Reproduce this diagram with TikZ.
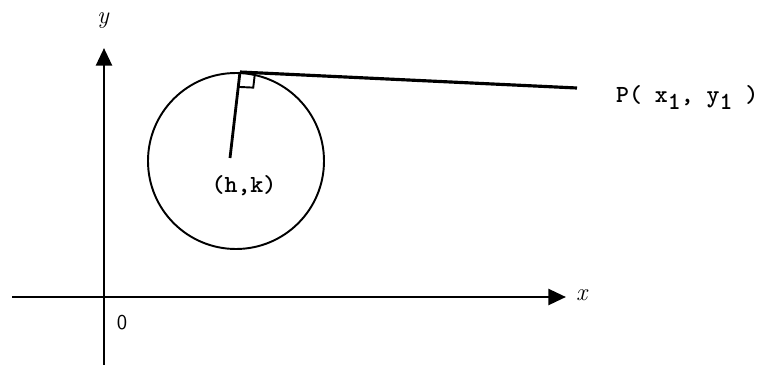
\documentclass[tikz,border=0pt]{standalone}
\usepackage{fontspec}
\usetikzlibrary{arrows.meta,calc}
\begin{document}
\begin{tikzpicture}
\useasboundingbox (0,0) rectangle (15.26,-7.3);
\tikzset{axis/.style={line width=1.6pt, -{Triangle[length=10pt,width=9pt]}},
  pt/.style={font=\ttfamily\bfseries\fontsize{14}{16}\selectfont},
  lab/.style={font=\itshape\fontsize{14}{16}\selectfont}}
\coordinate (o) at (2.08,-5.94);
\coordinate (ybot) at (2.08,-7.3);
\coordinate (ytop) at (2.08,-0.96);
\coordinate (xleft) at (0.24,-5.94);
\coordinate (xright) at (11.32,-5.94);
\coordinate (c) at (4.72,-3.22);
\coordinate (h) at (4.6,-3.16);
\coordinate (t) at (4.8,-1.44);
\coordinate (p) at (11.54,-1.76);
\draw[axis] (ybot) -- (ytop);
\draw[axis] (xleft) -- (xright);
\node[lab] (ylab) at (2.06,-0.42) {y};
\node[lab, anchor=west] (xlab) at (11.4,-5.9) {x};
\node (zero) at (2.44,-6.46) {\sffamily\fontsize{12}{14}\selectfont 0};
\draw[line width=1.1pt] (c) circle (1.76);
\draw[line width=1.6pt] (h) -- (t);
\draw[line width=1.8pt] (t) -- (p);
\draw[line width=1.1pt] ($(t)!0.3cm!(p)$) -- ($(t)!0.3cm!(p)+(t)!0.3cm!(h)-(t)$) -- ($(t)!0.3cm!(h)$);
\node[pt] (hk) at (4.88,-3.72) {(h,k)};
\node[pt, anchor=west] (plab) at (12.2,-1.95) {P( x\raisebox{-0.7ex}{1}, y\raisebox{-0.7ex}{1} )};
\end{tikzpicture}
\end{document}
